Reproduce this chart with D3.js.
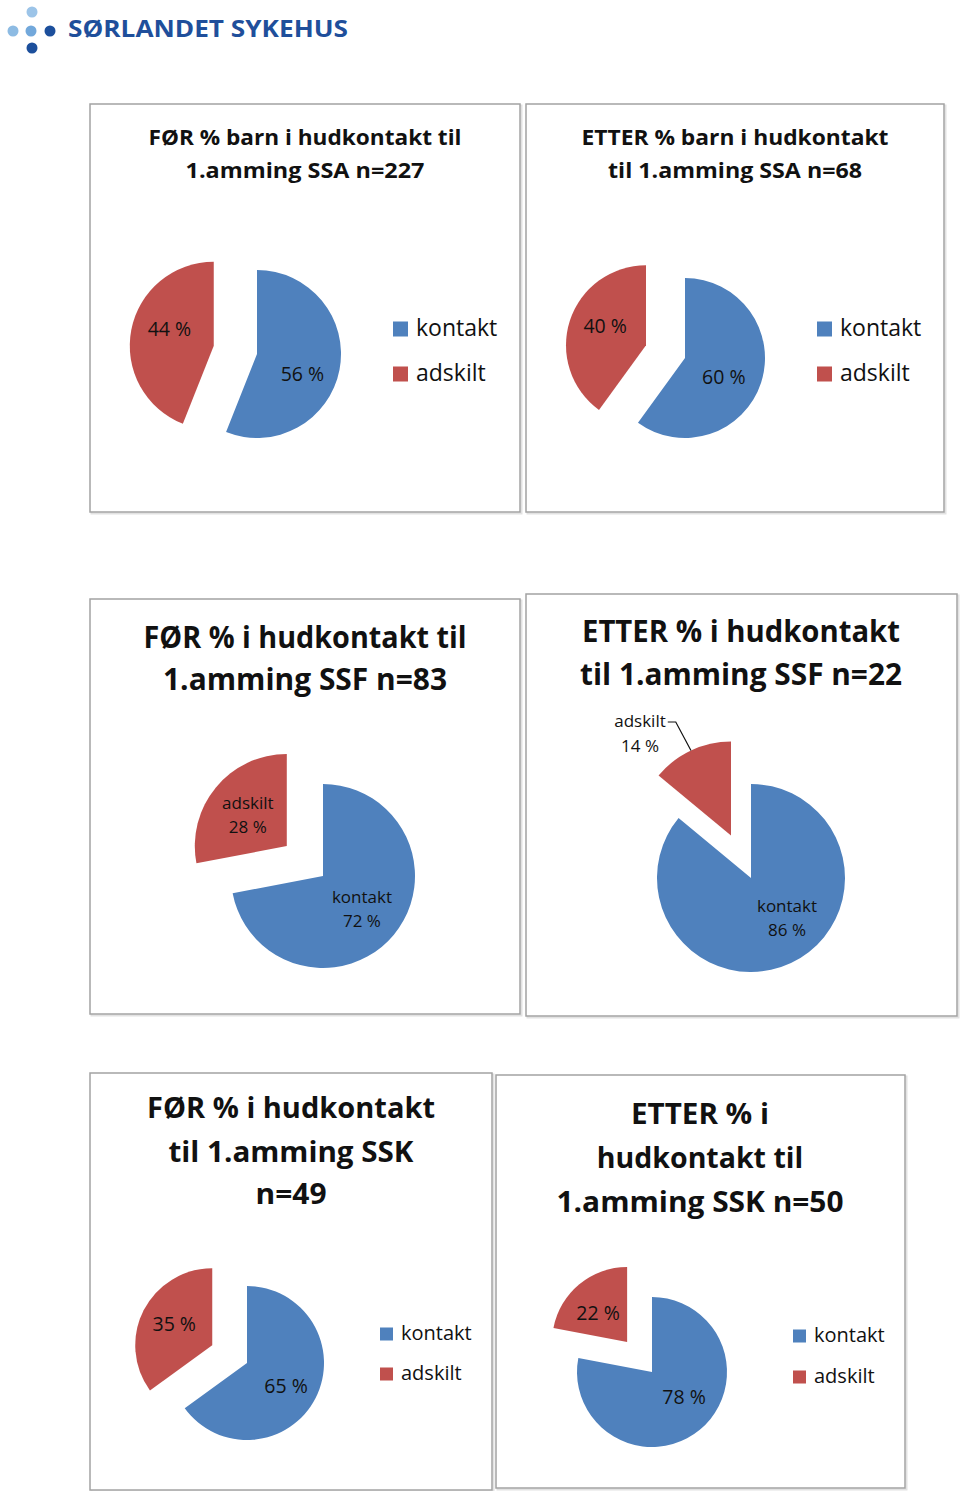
<!DOCTYPE html>
<html>
<head>
<meta charset="utf-8">
<script src="https://cdn.jsdelivr.net/npm/d3@7"></script>
<style>
  html, body { margin: 0; padding: 0; background: #fff; }
  svg { display: block; }
  text { font-family: "Open Sans", Lato, sans-serif; font-variant-ligatures: none; }
</style>
</head>
<body>
<svg id="chart" width="960" height="1491"></svg>
<script>
// ---- data ----
const categories = ["kontakt", "adskilt"];
const kontaktPct = [56, 60, 72, 86, 65, 78];
const adskiltPct = [44, 40, 28, 14, 35, 22];
const titles = [
  ["FØR % barn i hudkontakt til", "1.amming SSA n=227"],
  ["ETTER % barn i hudkontakt", "til 1.amming SSA n=68"],
  ["FØR % i hudkontakt til", "1.amming SSF n=83"],
  ["ETTER % i hudkontakt", "til 1.amming SSF n=22"],
  ["FØR % i hudkontakt", "til 1.amming SSK", "n=49"],
  ["ETTER % i", "hudkontakt til", "1.amming SSK n=50"]
];
const logoText = "SØRLANDET SYKEHUS";

// ---- styles / layout ----
const colors = d3.scaleOrdinal().domain(categories).range(["#4f81bd", "#c0504d"]);
const layout = [
  {box:[90,104,430,408], cx:257, cy:354, r:84, explode:44, tx:305, ty:[145,178], ts:21, tw:[313,239],
   ls:19.5, lf:1.1, labelMode:"pct", adj:[[0,12],[1,-8]], legend:{x:393, y:[329,374], fs:23, sq:15}},
  {box:[526,104,418,408], cx:685, cy:358, r:80, explode:41, tx:735, ty:[145,178], ts:21, tw:[307,254],
   ls:19.5, lf:1.1, labelMode:"pct", adj:[[-3,6],[1,-6]], legend:{x:817, y:[329,374], fs:23, sq:15}},
  {box:[90,599,430,415], cx:323, cy:876, r:92, explode:47, tx:305, ty:[648,690], ts:29.5, tw:[323,284],
   ls:17, lf:1.1, labelMode:"both", adj:[[0,-2],[0,-2]], legend:null},
  {box:[526,594,431,422], cx:751, cy:878, r:94, explode:47, tx:741, ty:[642,685], ts:29.5, tw:[318,322],
   ls:17, lf:1.1, labelMode:"both", adj:[[14,-10],[0,0]], legend:null, outside:{x:640, y:727}},
  {box:[90,1073,402,417], cx:247, cy:1363, r:77, explode:39, tx:291, ty:[1118,1162,1204], ts:28.5, tw:[288,245,71],
   ls:19.5, lf:1.05, labelMode:"pct", adj:[[3,5],[-2,-3]], legend:{x:380, y:[1334,1374], fs:20, sq:13}},
  {box:[496,1075,409,413], cx:652, cy:1372, r:75, explode:39, tx:700, ty:[1124,1168,1212], ts:28.5, tw:[138,206,287],
   ls:19.5, lf:1.05, labelMode:"pct", adj:[[7,-5],[-4,2]], legend:{x:793, y:[1336,1377], fs:20, sq:13}}
];

const svg = d3.select("#chart");

// fit a text element to a target width
function fit(sel, w) {
  const n = sel.node().getComputedTextLength();
  if (Math.abs(n - w) > 1) sel.attr("textLength", w).attr("lengthAdjust", "spacingAndGlyphs");
}

// ---- logo ----
const logo = svg.append("g");
const dotData = [
  {x:32, y:12, c:"#9cc4e8"}, {x:13, y:31, c:"#8dbbe3"}, {x:31, y:31, c:"#72a8db"},
  {x:50, y:31, c:"#1c4f9c"}, {x:32, y:48, c:"#1c4f9c"}
];
logo.selectAll("circle").data(dotData).join("circle")
  .attr("cx", d => d.x).attr("cy", d => d.y).attr("r", 5.5).attr("fill", d => d.c);
logo.append("text").attr("x", 68).attr("y", 37)
  .attr("font-size", 24).attr("font-weight", 700).attr("fill", "#1f4f9b")
  .attr("textLength", 280).attr("lengthAdjust", "spacingAndGlyphs")
  .text(logoText);

// ---- pies ----
const pie = d3.pie().sort(null).value(d => d.value);

layout.forEach((L, i) => {
  const g = svg.append("g");
  const [bx, by, bw, bh] = L.box;
  g.append("rect").attr("x", bx + 1.5).attr("y", by + 1.5).attr("width", bw).attr("height", bh)
    .attr("fill", "none").attr("stroke", "#e2e2e2").attr("stroke-width", 2);
  g.append("rect").attr("x", bx).attr("y", by).attr("width", bw).attr("height", bh)
    .attr("fill", "#fff").attr("stroke", "#a3a3a3").attr("stroke-width", 1.5);

  // title
  titles[i].forEach((line, j) => {
    const t = g.append("text").attr("text-anchor", "middle").attr("x", L.tx).attr("y", L.ty[j])
      .attr("font-size", L.ts).attr("font-weight", 700).attr("fill", "#111").text(line);
    fit(t, L.tw[j]);
  });

  const data = categories.map((c, k) => ({cat: c, value: k === 0 ? kontaktPct[i] : adskiltPct[i]}));
  const arcs = pie(data);
  const arc = d3.arc().innerRadius(0).outerRadius(L.r);

  arcs.forEach((a, k) => {
    const mid = (a.startAngle + a.endAngle) / 2;
    const d = k === 1 ? L.explode : 0;
    const ox = L.cx + d * Math.sin(mid);
    const oy = L.cy - d * Math.cos(mid);
    const sg = g.append("g").attr("transform", `translate(${ox},${oy})`);
    sg.append("path").attr("d", arc(a)).attr("fill", colors(a.data.cat));

    const pct = a.data.value + " %";
    if (L.outside && k === 1) {
      const lt = g.append("text").attr("text-anchor", "middle").attr("font-size", L.ls).attr("fill", "#111");
      lt.append("tspan").attr("x", L.outside.x).attr("y", L.outside.y).text(a.data.cat);
      lt.append("tspan").attr("x", L.outside.x).attr("y", L.outside.y + 25).text(pct);
      const tw = lt.select("tspan").node().getComputedTextLength();
      const sx = L.outside.x + tw / 2 + 2, sy = L.outside.y - 5;
      const ex = ox + L.r * Math.sin(mid), ey = oy - L.r * Math.cos(mid);
      g.append("polyline")
        .attr("points", `${sx},${sy} ${sx + 8},${sy} ${ex},${ey}`)
        .attr("fill", "none").attr("stroke", "#111").attr("stroke-width", 1.2);
      return;
    }
    const c = arc.centroid(a);
    const lx = c[0] * L.lf + L.adj[k][0], ly = c[1] * L.lf + L.adj[k][1];
    const lt = sg.append("text").attr("text-anchor", "middle").attr("font-size", L.ls).attr("fill", "#111");
    if (L.labelMode === "both") {
      lt.append("tspan").attr("x", lx).attr("y", ly - 3).text(a.data.cat);
      lt.append("tspan").attr("x", lx).attr("y", ly + 21).text(pct);
    } else {
      lt.attr("x", lx).attr("y", ly).attr("dy", "0.35em").text(pct);
    }
  });

  // legend
  if (L.legend) {
    const lg = g.append("g");
    categories.forEach((c, k) => {
      lg.append("rect").attr("x", L.legend.x).attr("y", L.legend.y[k] - L.legend.sq / 2)
        .attr("width", L.legend.sq).attr("height", L.legend.sq).attr("fill", colors(c));
      lg.append("text").attr("x", L.legend.x + L.legend.sq + 8).attr("y", L.legend.y[k])
        .attr("dy", "0.32em").attr("font-size", L.legend.fs).attr("fill", "#111").text(c);
    });
  }
});
</script>
</body>
</html>
